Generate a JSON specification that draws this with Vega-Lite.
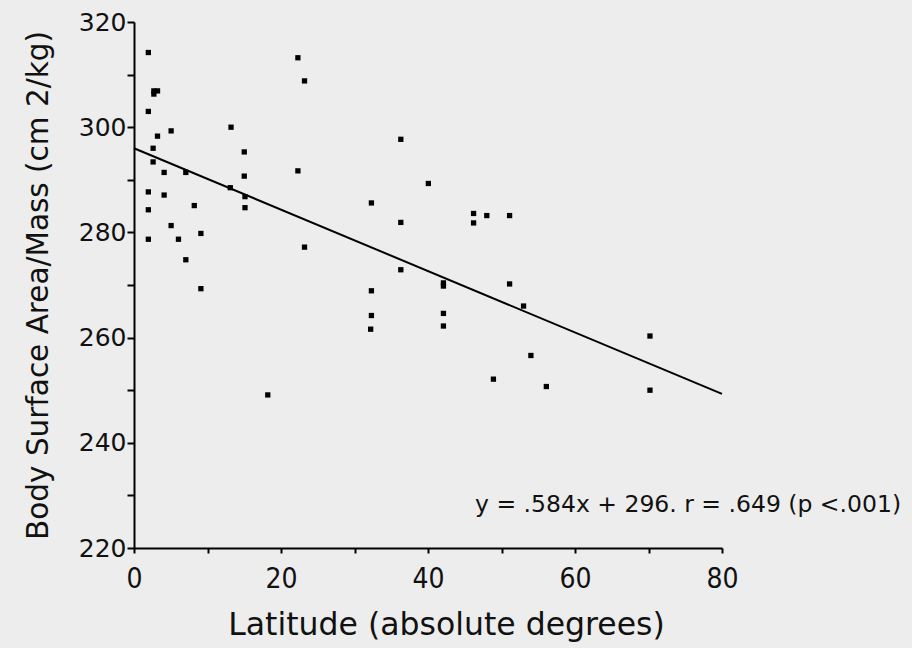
{
  "$schema": "https://vega.github.io/schema/vega-lite/v6.json",
  "autosize": {"type": "none"},
  "width": 588,
  "height": 526,
  "padding": {"left": 134, "top": 22, "right": 190, "bottom": 100},
  "background": "#ededed",
  "config": {
    "view": {"stroke": null},
    "axis": {"grid": false, "domainColor": "#000", "domainWidth": 2, "tickColor": "#000", "tickWidth": 2, "labelColor": "#111", "titleColor": "#111", "labelFont": "DejaVu Sans", "titleFont": "DejaVu Sans", "titleFontWeight": "normal"}
  },
  "datasets": {
    "pts": [
      {"lat": 1.95, "bsa": 314.2}, {"lat": 22.3, "bsa": 313.2}, {"lat": 2.7, "bsa": 306.9}, {"lat": 3.2, "bsa": 306.9},
      {"lat": 2.7, "bsa": 306.3}, {"lat": 23.2, "bsa": 308.8}, {"lat": 1.95, "bsa": 303.0}, {"lat": 13.2, "bsa": 300.0},
      {"lat": 5.05, "bsa": 299.3}, {"lat": 3.2, "bsa": 298.3}, {"lat": 15.0, "bsa": 295.3}, {"lat": 2.6, "bsa": 296.0},
      {"lat": 2.6, "bsa": 293.4}, {"lat": 4.1, "bsa": 291.4}, {"lat": 7.05, "bsa": 291.4}, {"lat": 15.0, "bsa": 290.7},
      {"lat": 22.3, "bsa": 291.7}, {"lat": 13.1, "bsa": 288.5}, {"lat": 1.95, "bsa": 287.7}, {"lat": 4.1, "bsa": 287.1},
      {"lat": 15.1, "bsa": 286.8}, {"lat": 8.2, "bsa": 285.1}, {"lat": 15.1, "bsa": 284.7}, {"lat": 1.95, "bsa": 284.3},
      {"lat": 5.05, "bsa": 281.3}, {"lat": 1.95, "bsa": 278.7}, {"lat": 6.05, "bsa": 278.7}, {"lat": 9.1, "bsa": 279.8},
      {"lat": 23.2, "bsa": 277.2}, {"lat": 7.05, "bsa": 274.8}, {"lat": 9.1, "bsa": 269.3}, {"lat": 18.2, "bsa": 249.1},
      {"lat": 36.3, "bsa": 297.7}, {"lat": 40.05, "bsa": 289.3}, {"lat": 32.3, "bsa": 285.6}, {"lat": 36.3, "bsa": 281.9},
      {"lat": 46.2, "bsa": 283.6}, {"lat": 46.2, "bsa": 281.8}, {"lat": 48.0, "bsa": 283.2}, {"lat": 51.1, "bsa": 283.2},
      {"lat": 36.3, "bsa": 272.9}, {"lat": 42.1, "bsa": 270.4}, {"lat": 42.1, "bsa": 269.8}, {"lat": 32.3, "bsa": 268.9},
      {"lat": 32.3, "bsa": 264.2}, {"lat": 32.2, "bsa": 261.6}, {"lat": 42.1, "bsa": 264.6}, {"lat": 42.1, "bsa": 262.2},
      {"lat": 51.1, "bsa": 270.2}, {"lat": 53.0, "bsa": 266.0}, {"lat": 54.0, "bsa": 256.6}, {"lat": 48.9, "bsa": 252.1},
      {"lat": 56.1, "bsa": 250.7}, {"lat": 70.2, "bsa": 260.3}, {"lat": 70.2, "bsa": 250.0}
    ],
    "fit": [{"lat": 0, "bsa": 296.0}, {"lat": 80, "bsa": 249.3}],
    "note": [{"lat": 46.4, "bsa": 228.2, "text": "y = .584x + 296.  r = .649 (p <.001)"}]
  },
  "layer": [
    {
      "data": {"name": "pts"},
      "mark": {"type": "point", "shape": "square", "filled": true, "color": "#000", "size": 28, "opacity": 1},
      "encoding": {
        "x": {"field": "lat", "type": "quantitative", "scale": {"domain": [0, 80], "nice": false},
          "axis": {"values": [0, 10, 20, 30, 40, 50, 60, 70, 80], "labelExpr": "datum.value % 20 === 0 ? datum.label : ''",
            "title": "Latitude (absolute degrees)", "labelFontSize": 28, "titleFontSize": 31.5, "labelFont": "DejaVu Sans Condensed, Liberation Sans", "titleFont": "DejaVu Sans", "tickSize": 5, "labelPadding": 12, "titlePadding": 16, "titleX": 312, "labelFlush": false}},
        "y": {"field": "bsa", "type": "quantitative", "scale": {"domain": [220, 320], "nice": false, "zero": false},
          "axis": {"values": [220, 230, 240, 250, 260, 270, 280, 290, 300, 310, 320], "labelExpr": "datum.value % 20 === 0 ? datum.label : ''",
            "title": "Body Surface Area/Mass (cm 2/kg)", "labelFontSize": 25, "titleFontSize": 29.5, "tickSize": 7, "labelPadding": 1, "titlePadding": 25, "labelFlush": false}}
      }
    },
    {
      "data": {"name": "fit"},
      "mark": {"type": "line", "color": "#000", "strokeWidth": 2},
      "encoding": {"x": {"field": "lat", "type": "quantitative"}, "y": {"field": "bsa", "type": "quantitative"}}
    },
    {
      "data": {"name": "note"},
      "mark": {"type": "text", "align": "left", "baseline": "middle", "fontSize": 23.5, "font": "DejaVu Sans", "color": "#111"},
      "encoding": {"x": {"field": "lat", "type": "quantitative"}, "y": {"field": "bsa", "type": "quantitative"}, "text": {"field": "text"}}
    }
  ]
}
